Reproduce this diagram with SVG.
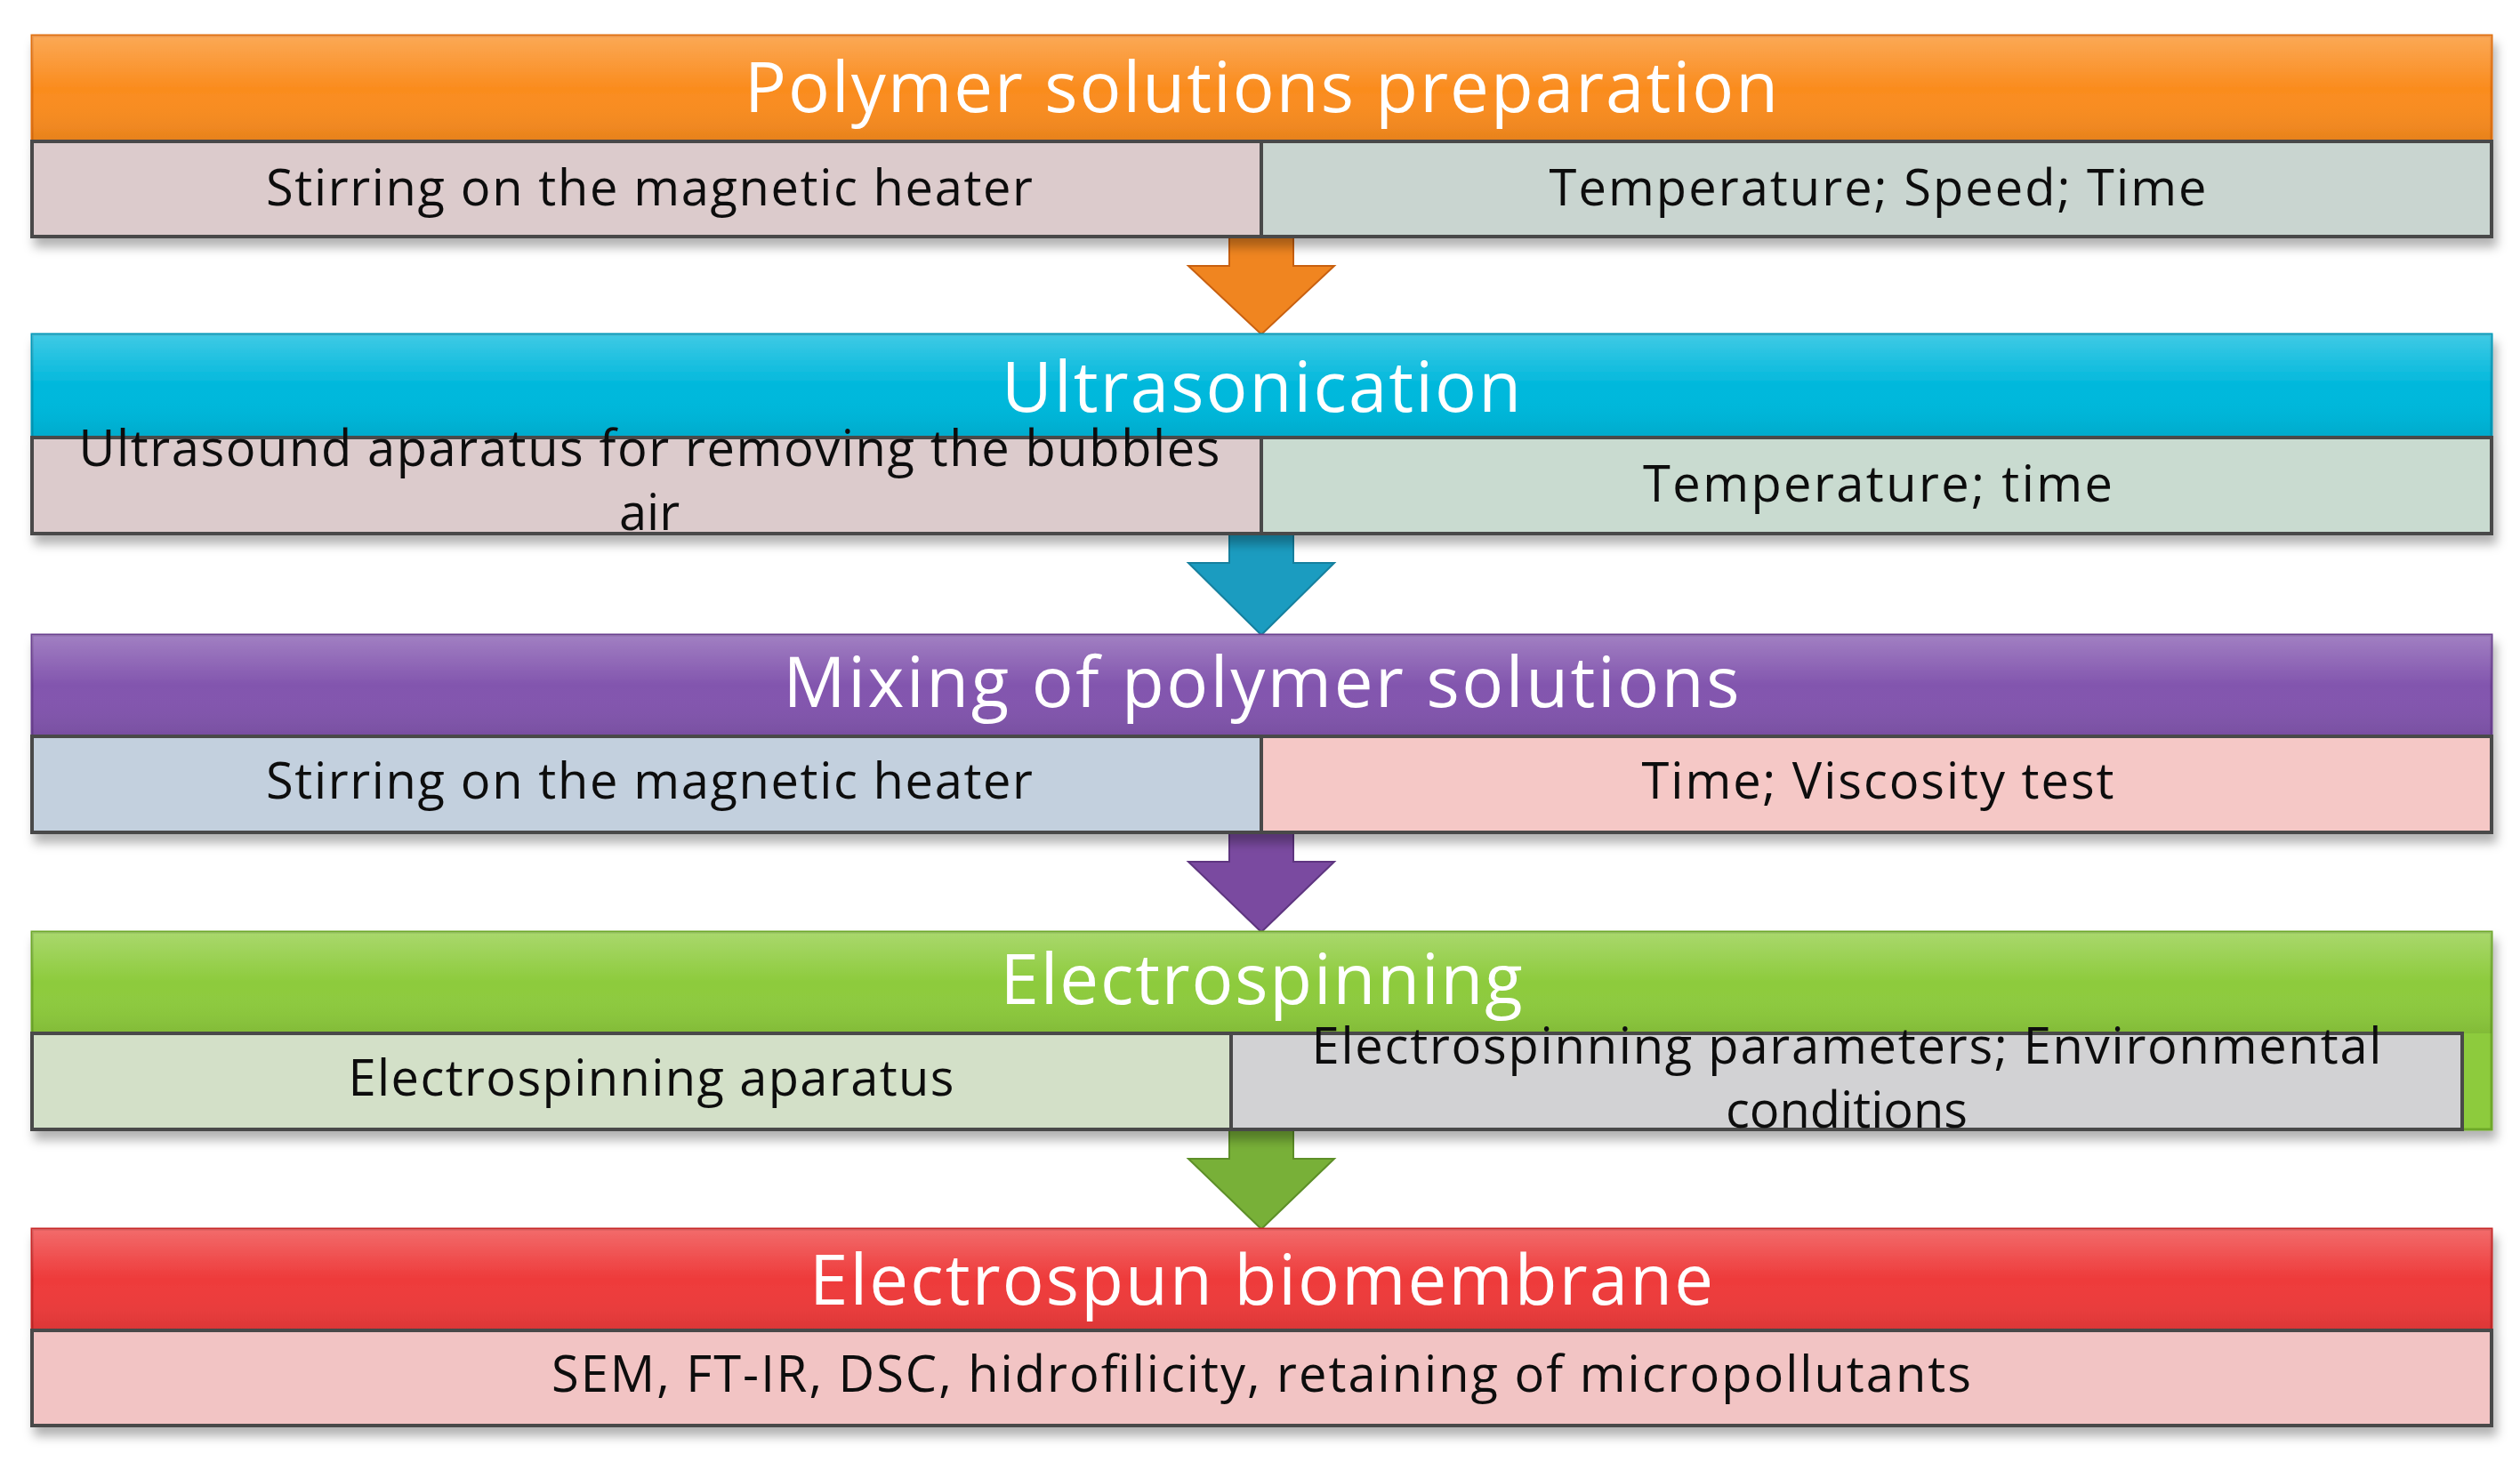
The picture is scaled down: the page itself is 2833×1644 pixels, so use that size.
<svg xmlns="http://www.w3.org/2000/svg" width="2833" height="1644" viewBox="0 0 2833 1644">
<style>
.h{font-family:"Open Sans","Noto Sans",sans-serif;font-size:78px;fill:#fff;text-anchor:middle}
.s{font-family:"Open Sans","Noto Sans",sans-serif;font-size:56px;fill:#111;text-anchor:middle}
.sb{stroke:#4a4a4a;stroke-width:4}
.hb{stroke-width:3}
</style>
<defs>
<filter id="sh" x="-5%" y="-20%" width="110%" height="150%"><feDropShadow dx="4" dy="10" stdDeviation="6" flood-color="#000" flood-opacity="0.3"/></filter>
<linearGradient id="gl" x1="0" y1="0" x2="0" y2="1"><stop offset="0" stop-color="#fff" stop-opacity="0.25"/><stop offset="0.5" stop-color="#fff" stop-opacity="0"/><stop offset="1" stop-color="#000" stop-opacity="0.08"/></linearGradient>
</defs>
<g id="connectors">
<path d="M1382 266H1454V299H1500L1418 376L1336 299H1382Z" fill="#f08520" stroke="#c86010" stroke-width="2"/>
<path d="M1382 600H1454V633H1500L1418 714L1336 633H1382Z" fill="#1b9cc0" stroke="#15809e" stroke-width="2"/>
<path d="M1382 936H1454V969H1500L1418 1048L1336 969H1382Z" fill="#7a4aa0" stroke="#5e3580" stroke-width="2"/>
<path d="M1382 1270H1454V1303H1500L1418 1382L1336 1303H1382Z" fill="#78b038" stroke="#5d8f28" stroke-width="2"/>
</g>
<g id="n1" filter="url(#sh)">
<rect x="36" y="40" width="2765" height="119" fill="#fa8c1e" stroke="#e07010" class="hb"/>
<rect x="36" y="40" width="2765" height="119" fill="url(#gl)"/>
<text class="h" x="1418" y="126" textLength="1162">Polymer solutions preparation</text>
<rect x="36" y="159" width="1382" height="107" fill="#dccbcc" class="sb"/>
<rect x="1418" y="159" width="1383" height="107" fill="#c9d5d0" class="sb"/>
<text class="s" x="730" y="231" textLength="862">Stirring on the magnetic heater</text>
<text class="s" x="2111" y="231" textLength="739">Temperature; Speed; Time</text>
</g>
<g id="n2" filter="url(#sh)">
<rect x="36" y="376" width="2765" height="116" fill="#00b8dc" stroke="#0098b8" class="hb"/>
<rect x="36" y="376" width="2765" height="116" fill="url(#gl)"/>
<text class="h" x="1418" y="463" textLength="584">Ultrasonication</text>
<rect x="36" y="492" width="1382" height="108" fill="#dccbcc" class="sb"/>
<rect x="1418" y="492" width="1383" height="108" fill="#c9dbd0" class="sb"/>
<text class="s" x="730" y="524" textLength="1283">Ultrasound aparatus for removing the bubbles</text>
<text class="s" x="730" y="596">air</text>
<text class="s" x="2111" y="564" textLength="528">Temperature; time</text>
</g>
<g id="n3" filter="url(#sh)">
<rect x="36" y="714" width="2765" height="114" fill="#8255ae" stroke="#6a4090" class="hb"/>
<rect x="36" y="714" width="2765" height="114" fill="url(#gl)"/>
<text class="h" x="1418" y="795" textLength="1075">Mixing of polymer solutions</text>
<rect x="36" y="828" width="1382" height="108" fill="#c3d0de" class="sb"/>
<rect x="1418" y="828" width="1383" height="108" fill="#f5c8c6" class="sb"/>
<text class="s" x="730" y="898" textLength="862">Stirring on the magnetic heater</text>
<text class="s" x="2111" y="898" textLength="531">Time; Viscosity test</text>
</g>
<g id="n4" filter="url(#sh)">
<rect x="36" y="1048" width="2765" height="222" fill="#8dcb3c" stroke="#6ea82a" class="hb"/>
<rect x="36" y="1048" width="2765" height="114" fill="url(#gl)"/>
<text class="h" x="1418" y="1129" textLength="587">Electrospinning</text>
<rect x="36" y="1162" width="1348" height="108" fill="#d3e0c8" class="sb"/>
<rect x="1384" y="1162" width="1384" height="108" fill="#d2d2d4" class="sb"/>
<text class="s" x="732" y="1232" textLength="681">Electrospinning aparatus</text>
<text class="s" x="2076" y="1196" textLength="1203">Electrospinning parameters; Environmental</text>
<text class="s" x="2076" y="1268">conditions</text>
</g>
<g id="n5" filter="url(#sh)">
<rect x="36" y="1382" width="2765" height="114" fill="#ee3a3a" stroke="#c82828" class="hb"/>
<rect x="36" y="1382" width="2765" height="114" fill="url(#gl)"/>
<text class="h" x="1418" y="1467" textLength="1016">Electrospun biomembrane</text>
<rect x="36" y="1496" width="2765" height="107" fill="#f2c4c4" class="sb"/>
<text class="s" x="1418" y="1565" textLength="1596">SEM, FT-IR, DSC, hidrofilicity, retaining of micropollutants</text>
</g>
</svg>
